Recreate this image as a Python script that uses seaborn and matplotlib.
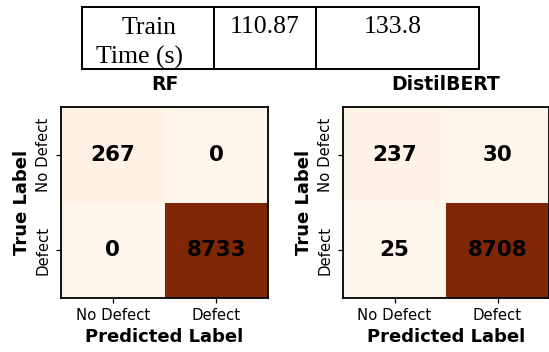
import matplotlib
matplotlib.use("Agg")
import matplotlib.pyplot as plt
import seaborn as sns
import numpy as np

# Confusion matrices (rows: true label, columns: predicted label)
class_labels = ["No Defect", "Defect"]
rf_counts = [[267, 0],
             [0, 8733]]
distilbert_counts = [[237, 30],
                     [25, 8708]]
model_names = ["RF", "DistilBERT"]

# Training-time row shown above the matrices
time_row_label = ["Train", "Time (s)"]
train_times = ["110.87", "133.8"]

W, H = 549, 352
fig = plt.figure(figsize=(W / 100, H / 100), dpi=100)
fig.patch.set_facecolor("white")

# ---- table row (drawn in pixel space on a full-figure overlay) ----
tab = fig.add_axes([0, 0, 1, 1], zorder=5)
tab.set_xlim(0, W)
tab.set_ylim(H, 0)
tab.axis("off")
col_edges = [82, 214, 316, 479]
top, bottom = 7, 69
lw = 1.4
tab.plot([col_edges[0], col_edges[-1]], [top, top], color="black", lw=lw)
tab.plot([col_edges[0], col_edges[-1]], [bottom, bottom], color="black", lw=lw)
for x in col_edges:
    tab.plot([x, x], [top, bottom], color="black", lw=lw)
serif = "Liberation Serif"
fs_tab = 18.5
tab.text(149, 34, time_row_label[0], ha="center", va="baseline",
         family=serif, fontsize=fs_tab)
tab.text(139, 64, time_row_label[1], ha="center", va="baseline",
         family=serif, fontsize=fs_tab)
tab.text((col_edges[1] + col_edges[2]) / 2, 33, train_times[0], ha="center",
         va="baseline", family=serif, fontsize=fs_tab)
tab.text((col_edges[2] + col_edges[3]) / 2 - 5, 33, train_times[1], ha="center",
         va="baseline", family=serif, fontsize=fs_tab)

# ---- confusion matrix heatmaps ----
panels = [(61, 268), (343, 549)]
ax_top, ax_bottom = 107, 298
for (x0, x1), name, counts in zip(panels, model_names,
                                  [rf_counts, distilbert_counts]):
    ax = fig.add_axes([x0 / W, (H - ax_bottom) / H, (x1 - x0) / W,
                       (ax_bottom - ax_top) / H])
    sns.heatmap(np.array(counts), annot=True, fmt="d", cmap="Oranges",
                cbar=False, square=False, ax=ax,
                xticklabels=class_labels, yticklabels=class_labels,
                annot_kws={"fontsize": 15.5, "fontweight": "bold",
                           "color": "black"})
    for s in ax.spines.values():
        s.set_visible(True)
        s.set_color("black")
        s.set_linewidth(1.3)
    ax.tick_params(axis="both", length=3.5, width=0.9, labelsize=10.7,
                   pad=4, bottom=True, left=True)
    plt.setp(ax.get_yticklabels(), rotation=90, va="center")
    plt.setp(ax.get_xticklabels(), rotation=0)
    ax.set_title(name, fontsize=13.5, fontweight="bold", pad=12)
    ax.set_xlabel("Predicted Label", fontsize=13, fontweight="bold",
                  labelpad=3)
    ax.set_ylabel("True Label", fontsize=13, fontweight="bold", labelpad=3)

fig.savefig("out.png", dpi=100, facecolor="white")
